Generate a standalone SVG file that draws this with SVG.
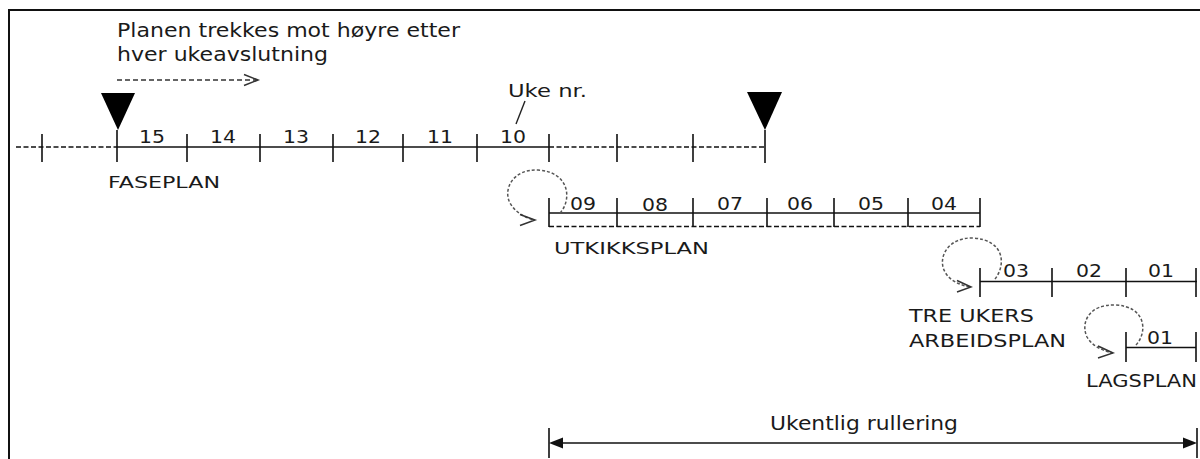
<svg xmlns="http://www.w3.org/2000/svg" width="1200" height="459" viewBox="0 0 1200 459">
  <defs>
    <style>
      text { font-family: "DejaVu Sans", Verdana, sans-serif; font-size: 17px; fill: #1a1a1a; }
      .num { text-anchor: middle; font-size: 17px; }
      .big { font-size: 19px; }
      .lbl { font-size: 17px; }
      .axis { stroke: #111; stroke-width: 1.6; fill: none; }
      .dash { stroke: #111; stroke-width: 1.6; fill: none; stroke-dasharray: 5 2.5; }
      .loop { stroke: #555; stroke-width: 1.5; fill: none; stroke-dasharray: 3 2; }
      .chev { stroke: #333; stroke-width: 1.5; fill: none; }
    </style>
    <marker id="head" viewBox="0 0 14 12" refX="0" refY="6" markerWidth="14" markerHeight="12" markerUnits="userSpaceOnUse" orient="auto-start-reverse">
      <path d="M0,0.5 L14,6 L0,11.5 Z" fill="#111"/>
    </marker>
  </defs>

  <!-- frame -->
  <path d="M9,459 V10 H1200" fill="none" stroke="#111" stroke-width="2"/>

  <!-- caption with shift arrow -->
  <g id="shift-note">
    <text class="big" x="117" y="37" textLength="343" lengthAdjust="spacingAndGlyphs">Planen trekkes mot høyre etter</text>
    <text class="big" x="117" y="61" textLength="211" lengthAdjust="spacingAndGlyphs">hver ukeavslutning</text>
    <path d="M117,80 H256" stroke="#333" stroke-width="1.5" stroke-dasharray="5 3" fill="none"/>
    <path class="chev" d="M244,74.5 L258,80 L244,85.5"/>
  </g>

  <!-- phase plan timeline -->
  <g id="faseplan">
    <path class="dash" d="M16,147 H117"/>
    <path class="axis" d="M117,147 H549"/>
    <path class="dash" d="M549,147 H764"/>
    <path class="axis" d="M42,134 V162 M117,130 V162 M187,134 V162 M260,134 V162 M333,134 V162 M403,134 V162 M477,134 V162 M549,134 V162 M617,134 V162 M693,134 V162 M765,130 V163"/>
    <path d="M101,93 H135 L118,130 Z" fill="#000"/>
    <path d="M747,92 H782 L765,130 Z" fill="#000"/>
    <text class="num" x="152" y="143" textLength="26" lengthAdjust="spacingAndGlyphs">15</text>
    <text class="num" x="223" y="143" textLength="26" lengthAdjust="spacingAndGlyphs">14</text>
    <text class="num" x="296" y="143" textLength="26" lengthAdjust="spacingAndGlyphs">13</text>
    <text class="num" x="368" y="143" textLength="26" lengthAdjust="spacingAndGlyphs">12</text>
    <text class="num" x="440" y="143" textLength="26" lengthAdjust="spacingAndGlyphs">11</text>
    <text class="num" x="513" y="143" textLength="26" lengthAdjust="spacingAndGlyphs">10</text>
    <text style="font-size:16px" x="108" y="188" textLength="112" lengthAdjust="spacingAndGlyphs">FASEPLAN</text>
  </g>

  <!-- week number callout -->
  <g id="uke-nr">
    <text x="508" y="97" textLength="79" lengthAdjust="spacingAndGlyphs">Uke nr.</text>
    <path d="M525,101 L516,124" stroke="#222" stroke-width="1.4"/>
  </g>

  <!-- look-ahead plan -->
  <g id="utkikksplan">
    <path class="axis" d="M549,213 H980"/>
    <path class="dash" d="M549,226.5 H980"/>
    <path class="axis" d="M549,198 V227 M617,198 V227 M693,198 V227 M767,198 V227 M834,198 V227 M908,198 V227 M980,198 V227"/>
    <text class="num" x="583" y="210" textLength="26" lengthAdjust="spacingAndGlyphs">09</text>
    <text class="num" x="655" y="211" textLength="26" lengthAdjust="spacingAndGlyphs">08</text>
    <text class="num" x="730" y="210" textLength="26" lengthAdjust="spacingAndGlyphs">07</text>
    <text class="num" x="800" y="210" textLength="26" lengthAdjust="spacingAndGlyphs">06</text>
    <text class="num" x="871" y="210" textLength="26" lengthAdjust="spacingAndGlyphs">05</text>
    <text class="num" x="944" y="210" textLength="26" lengthAdjust="spacingAndGlyphs">04</text>
    <text style="font-size:16.5px" x="554" y="254" textLength="155" lengthAdjust="spacingAndGlyphs">UTKIKKSPLAN</text>
  </g>

  <!-- three-week work plan -->
  <g id="tre-ukers-plan">
    <path class="axis" d="M980,281.5 H1197"/>
    <path class="axis" d="M980,268 V297 M1052,268 V297 M1126,268 V297 M1196,268 V297"/>
    <text class="num" x="1016" y="277" textLength="26" lengthAdjust="spacingAndGlyphs">03</text>
    <text class="num" x="1089" y="277" textLength="26" lengthAdjust="spacingAndGlyphs">02</text>
    <text class="num" x="1161" y="277" textLength="26" lengthAdjust="spacingAndGlyphs">01</text>
    <text style="font-size:18px" x="909" y="322" textLength="125" lengthAdjust="spacingAndGlyphs">TRE UKERS</text>
    <text style="font-size:18px" x="909" y="347" textLength="157" lengthAdjust="spacingAndGlyphs">ARBEIDSPLAN</text>
  </g>

  <!-- team plan -->
  <g id="lagsplan">
    <path class="axis" d="M1126,347.5 H1196"/>
    <path class="axis" d="M1126,332 V362 M1196,332 V362"/>
    <text class="num" x="1160" y="344" textLength="26" lengthAdjust="spacingAndGlyphs">01</text>
    <text style="font-size:18px" x="1086" y="387" textLength="111" lengthAdjust="spacingAndGlyphs">LAGSPLAN</text>
  </g>

  <!-- weekly roll-over span -->
  <g id="ukentlig-rullering">
    <path class="axis" d="M549,428 V458 M1197,428 V458"/>
    <path d="M563,443 H1183" stroke="#111" stroke-width="1.6" marker-start="url(#head)" marker-end="url(#head)"/>
    <text style="font-size:19px" x="770" y="430" textLength="188" lengthAdjust="spacingAndGlyphs">Ukentlig rullering</text>
  </g>

  <!-- roll-over loops -->
  <g id="connectors">
    <path class="loop" d="M560,213 C572,200 570,172 538,170 C512,169 503,190 510,203 C515,212 524,217 534,220"/>
    <path class="chev" d="M520,214.5 L535,220 L520,225.5"/>
    <path class="loop" d="M995,279 C1006,265 1005,240 973,238 C948,237 937,258 945,272 C950,281 960,285 970,287"/>
    <path class="chev" d="M957,280.5 L971,287 L957,292"/>
    <path class="loop" d="M1136,345 C1148,332 1146,306 1115,305 C1090,304 1080,322 1087,337 C1092,346 1103,351 1113,353"/>
    <path class="chev" d="M1098,346 L1113,353 L1098,358"/>
  </g>
</svg>
